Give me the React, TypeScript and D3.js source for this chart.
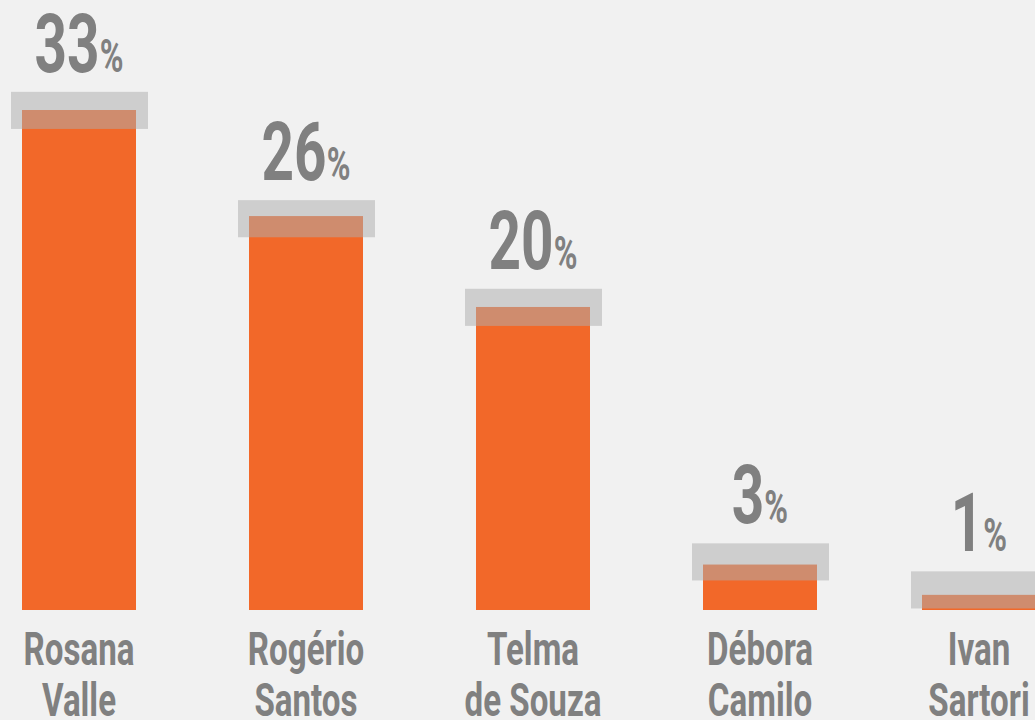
import React from "react";
import * as d3 from "d3";

const names: string[][] = [
  ["Rosana", "Valle"],
  ["Rogério", "Santos"],
  ["Telma", "de Souza"],
  ["Débora", "Camilo"],
  ["Ivan", "Sartori"],
];
const values = [33, 26, 20, 3, 1];
const bandHigh = [34.2, 27.05, 21.2, 4.4, 2.55];
const bandLow = [31.75, 24.6, 18.75, 1.95, 0.1];
const labels = ["33", "26", "20", "3", "1"];

const W = 1035;
const H = 720;
const FONT = "'Roboto', 'Liberation Sans', sans-serif";

export default function App() {
  const baseY = 610;
  const y = d3.scaleLinear().domain([0, 33]).range([baseY, 110]);
  const x = d3
    .scaleBand<number>()
    .domain(d3.range(values.length))
    .range([22 - 56.5, 22 - 56.5 + 227 * 5])
    .paddingInner(113 / 227)
    .paddingOuter(56.5 / 227);
  const bw = x.bandwidth();
  const bx = (i: number) => Math.min(x(i)!, W - bw + 1);
  return (
    <svg
      width={W}
      height={H}
      style={{ position: "absolute", left: 0, top: 0 }}
    >
      <rect width={W} height={H} fill="#f1f1f1" />
      {values.map((v, i) => (
        <rect key={"b" + i} x={bx(i)} y={y(v)} width={bw} height={baseY - y(v)} fill="#f26829" />
      ))}
      {values.map((v, i) => (
        <rect
          key={"m" + i}
          x={bx(i) - 11}
          y={y(bandHigh[i])}
          width={bw + 23}
          height={y(bandLow[i]) - y(bandHigh[i])}
          fill="#afafaf"
          opacity={0.52}
        />
      ))}
      {values.map((v, i) => (
        <g key={"t" + i} transform={`translate(${bx(i) + bw / 2},${y(bandHigh[i]) - 20}) scale(0.7,1)`}>
          <text
            textAnchor="middle"
            fill="#808080"
            fontFamily={FONT}
            fontWeight="bold"
          >
            <tspan fontSize={81}>{labels[i]}</tspan>
            <tspan fontSize={46}>%</tspan>
          </text>
        </g>
      ))}
      {names.map((lines, i) => (
        <g key={"n" + i} transform={`translate(${bx(i) + bw / 2},0) scale(0.72,1)`}>
          {lines.map((l, j) => (
            <text
              key={j}
              y={665 + j * 51}
              textAnchor="middle"
              fill="#808080"
              fontFamily={FONT}
              fontWeight="bold"
              fontSize={46}
            >
              {l}
            </text>
          ))}
        </g>
      ))}
    </svg>
  );
}
